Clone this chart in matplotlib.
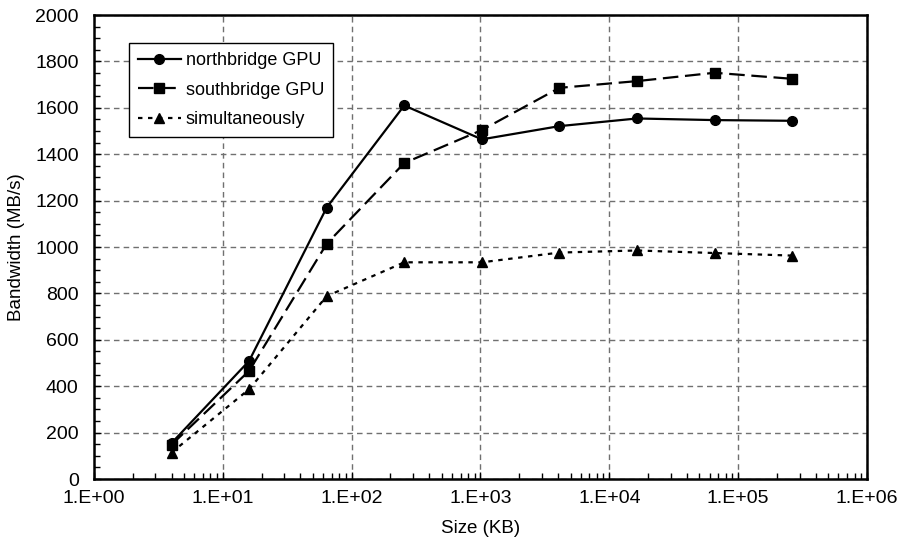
import matplotlib
matplotlib.use("Agg")
import matplotlib.pyplot as plt
import matplotlib.ticker as mticker
import numpy as np

plt.rcParams['font.family'] = ['Liberation Sans', 'DejaVu Sans']

# transfer size in KB and measured bandwidth in MB/s
sizes_kb = [4, 16, 64, 256, 1024, 4096, 16384, 65536, 262144]
northbridge = [155, 509, 1170, 1610, 1464, 1521, 1554, 1547, 1544]
southbridge = [148, 466, 1014, 1362, 1504, 1686, 1715, 1751, 1725]
simultaneous = [114, 387, 788, 934, 934, 976, 985, 974, 963]

x_decades = [1, 10, 100, 1e3, 1e4, 1e5, 1e6]
x_labels = ['1.E+00', '1.E+01', '1.E+02', '1.E+03', '1.E+04', '1.E+05', '1.E+06']

FS = 13.5

fig = plt.figure(figsize=(9, 5.52), dpi=100)
ax = fig.add_axes([94 / 900, 73 / 552, 773 / 900, 464 / 552])

ax.plot(sizes_kb, northbridge, color='black', lw=1.6, linestyle='-',
        marker='o', markersize=7, label='northbridge GPU', zorder=3)
ax.plot(sizes_kb, southbridge, color='black', lw=1.6, linestyle=(0, (7, 3)),
        marker='s', markersize=6.5, label='southbridge GPU', zorder=3)
ax.plot(sizes_kb, simultaneous, color='black', lw=1.6, linestyle=(0, (2, 2.5)),
        marker='^', markersize=7, label='simultaneously', zorder=3)

ax.set_xscale('log')
ax.set_xlim(1, 1e6)
ax.set_ylim(0, 2000)

ax.xaxis.set_major_locator(mticker.FixedLocator(x_decades))
ax.xaxis.set_major_formatter(mticker.FixedFormatter(x_labels))
ax.xaxis.set_minor_locator(mticker.LogLocator(base=10, subs=np.arange(2, 10), numticks=20))
ax.xaxis.set_minor_formatter(mticker.NullFormatter())
ax.yaxis.set_major_locator(mticker.MultipleLocator(200))
ax.yaxis.set_minor_locator(mticker.MultipleLocator(50))

ax.tick_params(which='both', direction='in', labelsize=14, color='black')
ax.tick_params(which='major', length=5, width=1)
ax.tick_params(which='minor', length=4, width=1)
ax.tick_params(axis='x', pad=8)
ax.tick_params(axis='y', pad=11)

ax.grid(True, which='major', color='#707070', linestyle=(0, (4, 3)), lw=1)

for s in ax.spines.values():
    s.set_linewidth(1.8)
    s.set_color('black')

ax.set_xlabel('Size (KB)', fontsize=FS, labelpad=9)
ax.set_ylabel('Bandwidth (MB/s)', fontsize=FS, labelpad=7)

leg = ax.legend(loc='upper left', bbox_to_anchor=(0.045, 0.94), borderaxespad=0,
                fontsize=13, fancybox=False, framealpha=1, edgecolor='black',
                handlelength=2.4, handletextpad=0.25, labelspacing=0.7,
                borderpad=0.5)
leg.get_frame().set_linewidth(1)

fig.savefig('out.png', dpi=100, facecolor='white')
